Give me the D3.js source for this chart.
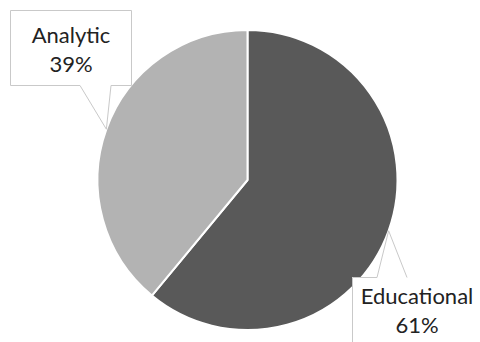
<!DOCTYPE html>
<html>
<head>
<meta charset="utf-8">
<script src="https://cdn.jsdelivr.net/npm/d3@7"></script>
<style>
  html, body { margin: 0; padding: 0; background: #fff; }
  svg { display: block; }
  text { font-family: Lato, "Open Sans", sans-serif; }
</style>
</head>
<body>
<svg id="chart" width="480" height="342"></svg>
<script>
// Share of work by type
const categories = ["Educational", "Analytic"];
const values = [61, 39];
const sliceColors = ["#595959", "#b3b3b3"];

const W = 480, H = 342;
const cx = 247.5, cy = 180, radius = 150;

const svg = d3.select("#chart");
const g = svg.append("g").attr("transform", `translate(${cx},${cy})`);

const total = d3.sum(values);
const pie = d3.pie().sort(null).value(d => d.value);
const arcs = pie(categories.map((c, i) => ({ name: c, value: values[i], color: sliceColors[i] })));

const arc = d3.arc().innerRadius(0).outerRadius(radius);

g.selectAll("path.slice")
  .data(arcs)
  .join("path")
  .attr("class", "slice")
  .attr("d", arc)
  .attr("fill", d => d.data.color)
  .attr("stroke", "#fff")
  .attr("stroke-width", 2)
  .attr("stroke-linejoin", "round");

// Point on the rim at the middle of a slice
function rimPoint(d) {
  const a = (d.startAngle + d.endAngle) / 2;
  return [cx + radius * Math.sin(a), cy - radius * Math.cos(a)];
}

// Callout boxes: pointer base on the box edge nearest the slice
const callouts = [
  { // Educational: box below right, pointer on top edge, runs off the canvas
    box: { x0: 352, y0: 277, x1: 482, y1: 360 },
    base: [377, 407], side: "top",
    lines: [304, 333], tx: 417
  },
  { // Analytic: box top left, pointer on bottom edge
    box: { x0: 10, y0: 10, x1: 132, y1: 86 },
    base: [80, 111], side: "bottom",
    lines: [43, 72], tx: 71
  }
];

const labels = svg.append("g");
arcs.forEach((d, i) => {
  const c = callouts[i];
  const [tx, ty] = rimPoint(d);
  const b = c.box;
  let fillPath, strokePath;
  if (c.side === "top") {
    fillPath = `M${b.x0},${b.y1}V${b.y0}H${c.base[0]}L${tx},${ty}L${c.base[1]},${b.y0}H${b.x1}V${b.y1}Z`;
    strokePath = `M${b.x0 + 0.5},${b.y1}V${b.y0 + 0.5}H${c.base[0]}L${tx},${ty}L${c.base[1]},${b.y0 + 0.5}`;
  } else {
    fillPath = `M${b.x0},${b.y0}H${b.x1}V${b.y1}H${c.base[1]}L${tx},${ty}L${c.base[0]},${b.y1}H${b.x0}Z`;
    strokePath = `M${b.x0 + 0.5},${b.y0 + 0.5}H${b.x1 - 0.5}V${b.y1 - 0.5}H${c.base[1]}L${tx},${ty}L${c.base[0]},${b.y1 - 0.5}H${b.x0 + 0.5}Z`;
  }
  labels.append("path").attr("d", fillPath).attr("fill", "#fff").attr("stroke", "none");
  labels.append("path").attr("d", strokePath).attr("fill", "none")
    .attr("stroke", "#c9c9c9").attr("stroke-width", 1);

  const pct = Math.round(d.data.value / total * 100) + "%";
  [d.data.name, pct].forEach((t, k) => {
    labels.append("text")
      .attr("x", c.tx)
      .attr("y", c.lines[k])
      .attr("text-anchor", "middle")
      .attr("font-size", 22)
      .attr("fill", "#222")
      .text(t);
  });
});
</script>
</body>
</html>
